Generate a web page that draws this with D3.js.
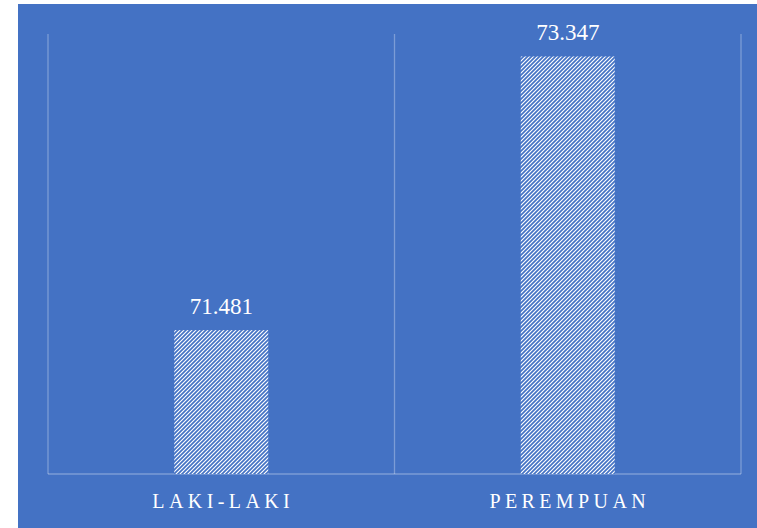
<!DOCTYPE html>
<html>
<head>
<meta charset="utf-8">
<script src="https://cdn.jsdelivr.net/npm/d3@7"></script>
<style>
  html, body { margin: 0; padding: 0; background: #fff; }
</style>
</head>
<body>
<svg id="chart" width="757" height="528"></svg>
<script>
var categories = ['LAKI-LAKI', 'PEREMPUAN'];
var values = [71.481, 73.347];
var yDomain = [70.5, 73.5];

var svg = d3.select('#chart');
var blue = '#4472C4';

// background panel
svg.append('rect')
  .attr('x', 18).attr('y', 4)
  .attr('width', 739).attr('height', 524)
  .attr('fill', blue);

// hatch pattern for the bars
var defs = svg.append('defs');
var pat = defs.append('pattern')
  .attr('id', 'hatch')
  .attr('patternUnits', 'userSpaceOnUse')
  .attr('width', 4).attr('height', 4);
pat.append('rect').attr('width', 4).attr('height', 4).attr('fill', '#fff');
pat.append('path')
  .attr('d', 'M-1,1 l2,-2 M0,4 l4,-4 M3,5 l2,-2')
  .attr('stroke', blue)
  .attr('stroke-width', 1.7);

var plotLeft = 48, plotRight = 741, plotTop = 34, plotBottom = 474;

var x = d3.scaleBand()
  .domain(categories)
  .range([plotLeft, plotRight])
  .paddingInner(0).paddingOuter(0);

var y = d3.scaleLinear()
  .domain(yDomain)
  .range([plotBottom, plotTop]);

var grid = 'rgba(255,255,255,0.3)';

// vertical separators between categories
var seps = [plotLeft].concat(categories.map(function(c) { return x(c) + x.bandwidth(); }));
svg.selectAll('.sep')
  .data(seps)
  .enter()
  .append('line')
  .attr('class', 'sep')
  .attr('x1', function(d) { return d; })
  .attr('x2', function(d) { return d; })
  .attr('y1', plotTop)
  .attr('y2', plotBottom)
  .attr('stroke', grid)
  .attr('stroke-width', 1.3);

// baseline
svg.append('line')
  .attr('x1', plotLeft).attr('x2', plotRight)
  .attr('y1', plotBottom).attr('y2', plotBottom)
  .attr('stroke', grid)
  .attr('stroke-width', 1.3);

var barW = 94;

svg.selectAll('.bar')
  .data(values)
  .enter()
  .append('rect')
  .attr('class', 'bar')
  .attr('x', function(d, i) { return x(categories[i]) + x.bandwidth() / 2 - barW / 2; })
  .attr('y', function(d) { return y(d); })
  .attr('width', barW)
  .attr('height', function(d) { return plotBottom - y(d); })
  .attr('fill', 'url(#hatch)');

// value labels
svg.selectAll('.val')
  .data(values)
  .enter()
  .append('text')
  .attr('class', 'val')
  .attr('x', function(d, i) { return x(categories[i]) + x.bandwidth() / 2; })
  .attr('y', function(d) { return y(d) - 16; })
  .attr('text-anchor', 'middle')
  .attr('font-family', 'Liberation Serif, Times New Roman, serif')
  .attr('font-size', 23)
  .attr('fill', '#fff')
  .text(function(d) { return d.toFixed(3); });

// category labels
svg.selectAll('.cat')
  .data(categories)
  .enter()
  .append('text')
  .attr('class', 'cat')
  .attr('x', function(d) { return x(d) + x.bandwidth() / 2 + 2; })
  .attr('y', 508)
  .attr('text-anchor', 'middle')
  .attr('font-family', 'Liberation Serif, Times New Roman, serif')
  .attr('font-size', 20)
  .attr('letter-spacing', 4.4)
  .attr('fill', '#fff')
  .text(function(d) { return d; });
</script>
</body>
</html>
